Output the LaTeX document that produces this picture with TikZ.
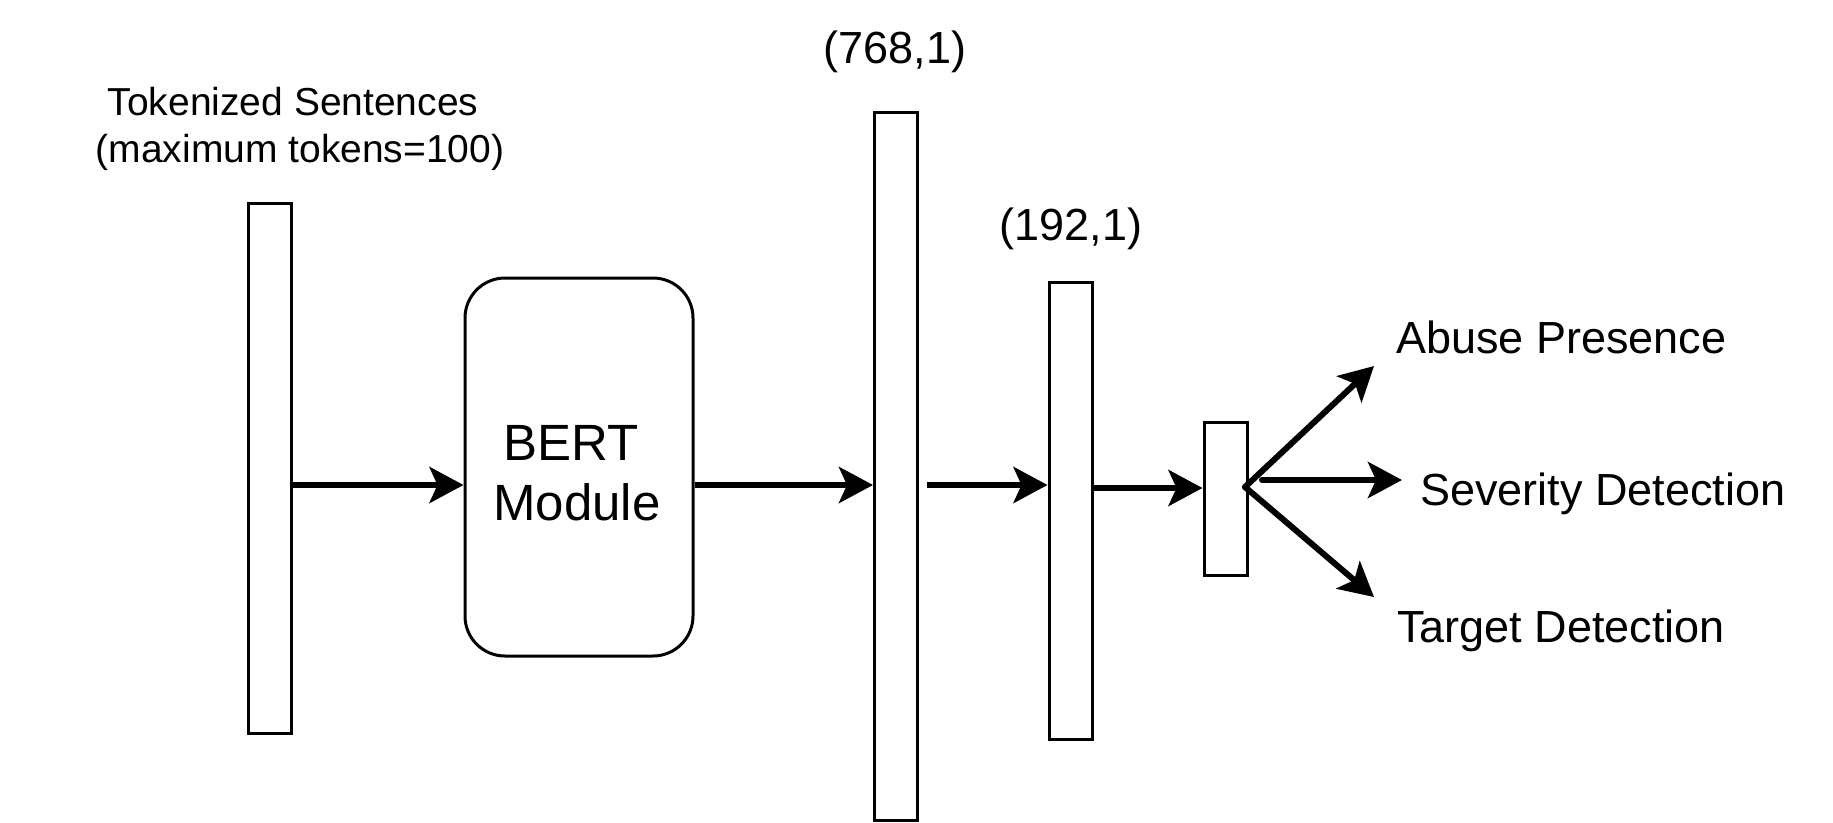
\documentclass[tikz,border=0pt]{standalone}
\usepackage{fontspec}
\setmainfont{Liberation Sans}
\usetikzlibrary{arrows.meta}
\begin{document}
\begin{tikzpicture}[x=1pt,y=-1pt,
  bar/.style={draw, line width=3pt, minimum width=43pt, inner sep=0pt},
  conn/.style={line width=6pt, -{Stealth[length=34pt,width=36pt,inset=8pt]}},
  fan/.style={conn, line cap=round},
  lbl/.style={font=\fontsize{45}{54}\selectfont, inner sep=0pt, anchor=base}]
\useasboundingbox (0,0) rectangle (1833,822);
% boxes
\node[bar, minimum height=530pt] (b1) at (269.5,468) {};
\node[draw, line width=3pt, rounded corners=40pt, minimum width=228pt, minimum height=378pt, inner sep=0pt] (bert) at (579,467) {};
\node[bar, minimum height=708pt] (b2) at (896,466) {};
\node[bar, minimum height=457pt] (b3) at (1070.5,510.5) {};
\node[bar, minimum height=153pt] (b4) at (1225.5,498.5) {};
% texts
\node[lbl, font=\fontsize{39}{47}\selectfont] (tok1) at (293,115) {Tokenized Sentences};
\node[lbl, font=\fontsize{39}{47}\selectfont] (tok2) at (300,162) {(maximum tokens=100)};
\node[lbl, font=\fontsize{51}{60}\selectfont] (bertA) at (571,460) {BERT};
\node[lbl, font=\fontsize{51}{60}\selectfont] (bertB) at (577,520) {Module};
\node[lbl] (l768) at (895,63) {(768,1)};
\node[lbl] (l192) at (1071,240) {(192,1)};
\node[lbl, anchor=base west] (abuse) at (1396,353) {Abuse Presence};
\node[lbl, anchor=base west] (sev) at (1420,505) {Severity Detection};
\node[lbl, anchor=base west] (tgt) at (1397,642) {Target Detection};
% coordinates
\coordinate (ya) at (0,485);
\coordinate (yb) at (0,488);
\coordinate (s3) at (927,485);
\coordinate (f) at (1245,487);
\coordinate (tA) at (1374,366);
\coordinate (sS) at (1262,480);
\coordinate (tS) at (1402,480);
\coordinate (tT) at (1374,597);
% connectors
\draw[conn] (b1.east |- ya) -- (bert.west |- ya);
\draw[conn] (bert.east |- ya) -- (b2.west |- ya);
\draw[conn] (s3) -- (b3.west |- ya);
\draw[conn] (b3.east |- yb) -- (b4.west |- yb);
\draw[fan] (f) -- (tA);
\draw[fan] (sS) -- (tS);
\draw[fan] (f) -- (tT);
\end{tikzpicture}
\end{document}
